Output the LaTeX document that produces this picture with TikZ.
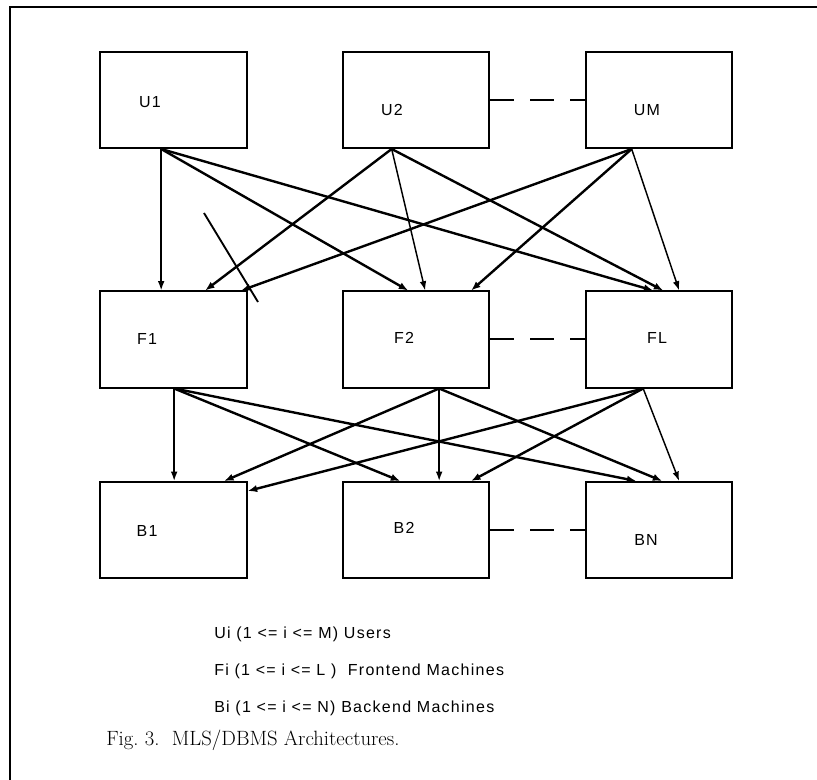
\documentclass[tikz,border=0pt]{standalone}
\usepackage{fontspec}
\newfontfamily\helv[LetterSpace=8]{Liberation Sans}
\usetikzlibrary{arrows.meta,calc}

\begin{document}
\begin{tikzpicture}[x=0.75pt,y=-0.75pt,
  box/.style={draw,line width=1.5pt,minimum width=110pt,minimum height=72pt,inner sep=0pt},
  lbl/.style={font=\helv\fontsize{12}{14}\selectfont,inner sep=0pt},
  thinarr/.style={line width=1.1pt,-{Latex[length=7pt,width=5pt]}},
  thickarr/.style={line width=1.8pt,-{Latex[length=7pt,width=5.5pt]}},
  gapline/.style={line width=1.5pt,dash pattern=on 18pt off 12pt}]
\useasboundingbox (0,0) rectangle (817,780);
\draw[line width=1.8pt] (10,780)--(10,7)--(817,7);

% users
\node[box] (U1) at (173.5,100) {};
\node[box] (U2) at (416,100) {};
\node[box] (UM) at (659,100) {};
\node[lbl] (tU1) at (150,102) {U1};
\node[lbl] (tU2) at (392,110) {U2};
\node[lbl] (tUM) at (647,110) {UM};
% frontends
\node[box] (F1) at (173.5,339.5) {};
\node[box] (F2) at (416,339.5) {};
\node[box] (FL) at (659,339.5) {};
\node[lbl] (tF1) at (147,339) {F1};
\node[lbl] (tF2) at (404,338) {F2};
\node[lbl] (tFL) at (657,338) {FL};
% backends
\node[box] (B1) at (173.5,530) {};
\node[box] (B2) at (416,530) {};
\node[box] (BN) at (659,530) {};
\node[lbl] (tB1) at (147,531) {B1};
\node[lbl] (tB2) at (404,528) {B2};
\node[lbl] (tBN) at (646,540) {BN};

\draw[gapline] (U2.east)--(UM.west);
\draw[gapline] (F2.east)--(FL.west);
\draw[gapline] (B2.east)--(BN.west);

% users to frontends
\draw[thinarr] ($(U1.south west)+(62,0)$)--($(F1.north west)+(62,0)$);
\draw[thickarr] ($(U1.south west)+(62,0)$)--($(F2.north west)+(66.5,0)$);
\draw[thickarr] ($(U1.south west)+(62,0)$)--($(FL.north west)+(68.5,0)$);
\draw[thickarr] ($(U2.south west)+(50,0)$)--($(F1.north west)+(106,0)$);
\draw[thinarr] ($(U2.south west)+(50,0)$)--($(F2.north west)+(83.5,0)$);
\draw[thickarr] ($(U2.south west)+(50,0)$)--($(FL.north west)+(78.5,0)$);
\draw[thickarr] ($(UM.south west)+(47,0)$)--($(F1.north west)+(142,0)$);
\draw[thickarr] ($(UM.south west)+(47,0)$)--($(F2.north west)+(129.5,0)$);
\draw[thinarr] ($(UM.south west)+(47,0)$)--($(FL.north west)+(94.5,0)$);

% frontends to backends
\draw[thinarr] ($(F1.south west)+(75,0)$)--($(B1.north west)+(75,0)$);
\draw[thickarr] ($(F1.south west)+(75,0)$)--($(B2.north west)+(58.5,0)$);
\draw[thickarr] ($(F1.south west)+(75,0)$)--($(BN.north west)+(51.5,0)$);
\draw[thickarr] ($(F2.south west)+(97.5,0)$)--($(B1.north west)+(125,0)$);
\draw[thinarr] ($(F2.south west)+(97.5,0)$)--($(B2.north west)+(97.5,0)$);
\draw[thickarr] ($(F2.south west)+(97.5,0)$)--($(BN.north west)+(77.5,0)$);
\draw[thickarr] ($(FL.south west)+(58.5,0)$)--($(B1.north east)+(0,10)$);
\draw[thickarr] ($(FL.south west)+(58.5,0)$)--($(B2.north west)+(129.5,0)$);
\draw[thinarr] ($(FL.south west)+(58.5,0)$)--($(BN.north west)+(94.5,0)$);

% stray stroke
\coordinate (s1) at (204,213);
\coordinate (s2) at (258,302);
\draw[line width=1.4pt] (s1)--(s2);

% legend
\node[lbl,anchor=west] (key1) at (214,634) {Ui (1 <= i <= M) Users};
\node[lbl,anchor=west] (key2) at (214,671) {Fi (1 <= i <= L )\ \ Frontend Machines};
\node[lbl,anchor=west] (key3) at (214,708) {Bi (1 <= i <= N) Backend Machines};
\node[anchor=west,inner sep=0pt,font=\fontsize{15.5}{18}\selectfont] (cap) at (106,740) {Fig.~3.\ \ MLS/DBMS Architectures.};
\end{tikzpicture}
\end{document}
